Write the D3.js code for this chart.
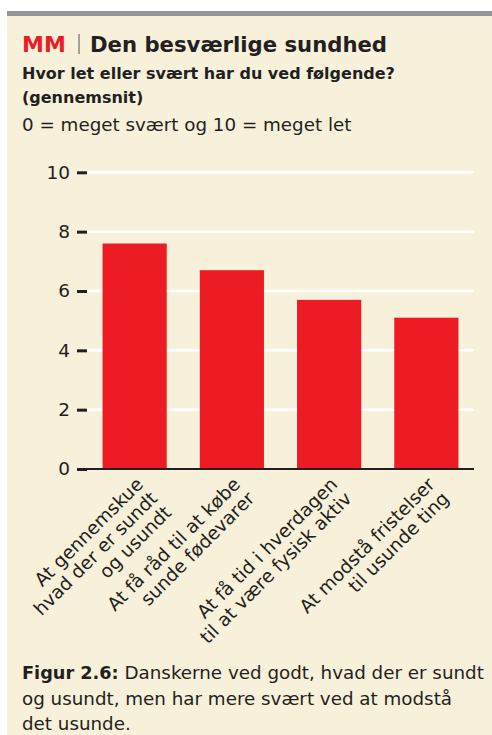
<!DOCTYPE html>
<html>
<head>
<meta charset="utf-8">
<script src="https://cdn.jsdelivr.net/npm/d3@7"></script>
<style>
  html, body { margin: 0; padding: 0; background: #ffffff; }
  svg { display: block; }
  text { font-family: "DejaVu Sans", sans-serif; fill: #231f20; }
</style>
</head>
<body>
<svg id="chart" width="492" height="735"></svg>
<script>
// Survey answers: average ease (0 = very hard, 10 = very easy)
const categories = [
  ["At gennemskue", "hvad der er sundt", "og usundt"],
  ["At få råd til at købe", "sunde fødevarer"],
  ["At få tid i hverdagen", "til at være fysisk aktiv"],
  ["At modstå fristelser", "til usunde ting"]
];
const values = [7.6, 6.7, 5.7, 5.1];
const yTicks = [0, 2, 4, 6, 8, 10];

const titleBrand = "MM";
const titleText = "Den besværlige sundhed";
const subtitleLines = ["Hvor let eller svært har du ved følgende?", "(gennemsnit)"];
const scaleNote = "0 = meget svært og 10 = meget let";
const captionLead = "Figur 2.6:";
const captionLines = [" Danskerne ved godt, hvad der er sundt", "og usundt, men har mere svært ved at modstå", "det usunde."];

const svg = d3.select("#chart");
const W = 492, H = 735;

// Panel background and top rule
svg.append("rect").attr("x", 7).attr("y", 11).attr("width", W - 7).attr("height", H - 11).attr("fill", "#f7f0da");
svg.append("rect").attr("x", 7).attr("y", 11).attr("width", W - 7).attr("height", 5).attr("fill", "#939598");

// Header
const title = svg.append("text").attr("x", 22).attr("y", 52).attr("font-weight", "bold").attr("font-size", 22);
title.append("tspan").attr("fill", "#ed1c24").text(titleBrand);
svg.append("line").attr("x1", 79).attr("x2", 79).attr("y1", 34).attr("y2", 54)
  .attr("stroke", "#6d6e71").attr("stroke-width", 1.2);
svg.append("text").attr("x", 90).attr("y", 52).attr("font-weight", "bold").attr("font-size", 21.2)
  .text(titleText);
svg.append("text").attr("x", 22).attr("y", 79).attr("font-weight", "bold").attr("font-size", 16)
  .text(subtitleLines[0]);
svg.append("text").attr("x", 22).attr("y", 103).attr("font-weight", "bold").attr("font-size", 16)
  .text(subtitleLines[1]);
svg.append("text").attr("x", 22).attr("y", 131).attr("font-size", 18.3).text(scaleNote);

// Scales
const plotLeft = 87, plotRight = 474, plotTop = 172.3, plotBottom = 469;
const x = d3.scaleBand().domain(d3.range(values.length))
  .range([plotLeft, plotRight]).paddingInner(0.34).paddingOuter(0.16);
const y = d3.scaleLinear().domain([0, 10]).range([plotBottom, plotTop]);

// White gridlines
svg.append("g").selectAll("line").data(yTicks.filter(d => d > 0)).join("line")
  .attr("x1", plotLeft).attr("x2", plotRight)
  .attr("y1", d => y(d)).attr("y2", d => y(d))
  .attr("stroke", "#ffffff").attr("stroke-width", 2.5);

// Bars
svg.append("g").selectAll("rect").data(values).join("rect")
  .attr("x", (d, i) => x(i)).attr("width", x.bandwidth())
  .attr("y", d => y(d)).attr("height", d => y(0) - y(d))
  .attr("fill", "#ed1c24");

// Baseline
svg.append("line").attr("x1", plotLeft).attr("x2", plotRight)
  .attr("y1", plotBottom).attr("y2", plotBottom)
  .attr("stroke", "#231f20").attr("stroke-width", 2);

// Y axis: short dark ticks with numbers
const yAxis = svg.append("g").attr("transform", `translate(${plotLeft},0)`)
  .call(d3.axisLeft(y).tickValues(yTicks).tickSize(10).tickPadding(7));
yAxis.select(".domain").remove();
yAxis.selectAll(".tick line").attr("stroke", "#231f20").attr("stroke-width", 3);
yAxis.selectAll(".tick text").attr("font-size", 18.5).attr("font-family", "DejaVu Sans")
  .attr("fill", "#231f20");

// Category labels, rotated and right-aligned to each bar centre
const labels = svg.append("g").selectAll("text").data(categories).join("text")
  .attr("transform", (d, i) => `translate(${x(i) + x.bandwidth() / 2},${plotBottom + 7}) rotate(-45)`)
  .attr("text-anchor", "end").attr("font-size", 18.5);
labels.selectAll("tspan").data(d => d).join("tspan")
  .attr("x", 0).attr("y", (d, j) => 13.5 + j * 20)
  .text(d => d);

// Caption
const cap = svg.append("text").attr("x", 22).attr("y", 679).attr("font-size", 18.3);
cap.append("tspan").attr("font-weight", "bold").attr("font-size", 17.7).text(captionLead);
cap.append("tspan").text(captionLines[0]);
svg.append("text").attr("x", 22).attr("y", 705).attr("font-size", 18.3).text(captionLines[1]);
svg.append("text").attr("x", 22).attr("y", 730).attr("font-size", 18.3).text(captionLines[2]);
</script>
</body>
</html>
